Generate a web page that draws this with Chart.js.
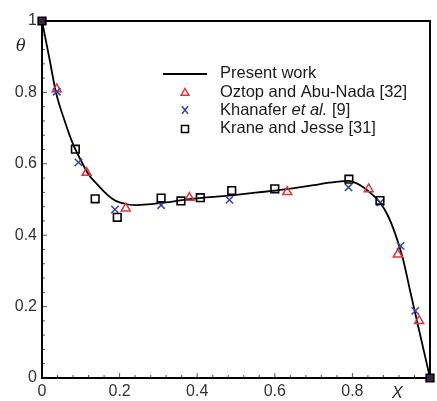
<!DOCTYPE html>
<html>
<head>
<meta charset="utf-8">
<script src="https://cdn.jsdelivr.net/npm/chart.js@4/dist/chart.umd.min.js"></script>
<style>
  body { margin: 0; background: #fff; }
  canvas { display: block; }
</style>
</head>
<body>
<canvas id="thetaChart" width="437" height="401"></canvas>
<script>
// Present work: continuous profile of theta along X
const presentX = [0, 0.02, 0.036, 0.06, 0.08, 0.10, 0.12, 0.14, 0.16, 0.18, 0.20, 0.24, 0.28, 0.32,
    0.36, 0.40, 0.45, 0.50, 0.55, 0.60, 0.65, 0.70, 0.74, 0.77, 0.79, 0.81, 0.83, 0.85, 0.87,
    0.89, 0.91, 0.93, 0.95, 0.97, 0.99, 1];
const presentY = [1, 0.89, 0.80, 0.715, 0.655, 0.61, 0.570, 0.545, 0.522, 0.503, 0.492, 0.484, 0.487, 0.492,
    0.498, 0.503, 0.508, 0.513, 0.519, 0.525, 0.532, 0.540, 0.547, 0.551, 0.552, 0.546, 0.533, 0.515, 0.493,
    0.458, 0.405, 0.335, 0.238, 0.143, 0.048, 0];

// Oztop and Abu-Nada [32]
const oztopX = [0.038, 0.115, 0.216, 0.380, 0.632, 0.842, 0.917, 0.972];
const oztopY = [0.809, 0.575, 0.475, 0.505, 0.521, 0.529, 0.346, 0.160];

// Khanafer et al. [9]
const khanaferX = [0.038, 0.094, 0.188, 0.307, 0.483, 0.790, 0.872, 0.924, 0.962];
const khanaferY = [0.802, 0.604, 0.472, 0.484, 0.499, 0.534, 0.492, 0.370, 0.188];

// Krane and Jesse [31] (end points shared by all data sets)
const kraneX = [0, 0.086, 0.137, 0.194, 0.307, 0.358, 0.408, 0.489, 0.600, 0.791, 0.871, 1];
const kraneY = [1, 0.641, 0.502, 0.450, 0.504, 0.496, 0.505, 0.525, 0.530, 0.557, 0.497, 0];

const tickValues = [0, 0.2, 0.4, 0.6, 0.8, 1];

const RED = '#e0343c';
const BLUE = '#3b3f9c';
const FONT = '"Liberation Sans", Arial, Helvetica, sans-serif';

function toPoints(xs, ys) {
    return xs.map((x, i) => ({ x: x, y: ys[i] }));
}

function tickText(v) {
    if (v === 0 || v === 1) return String(v);
    return v.toFixed(1);
}

// small symbol painters, shared by the legend
function drawTriangle(ctx, x, y, r) {
    ctx.beginPath();
    ctx.moveTo(x, y - r);
    ctx.lineTo(x + r * 0.866, y + r * 0.5);
    ctx.lineTo(x - r * 0.866, y + r * 0.5);
    ctx.closePath();
    ctx.stroke();
}
function drawCross(ctx, x, y, r) {
    ctx.beginPath();
    ctx.moveTo(x - r * 0.6, y - r * 0.75);
    ctx.lineTo(x + r * 0.6, y + r * 0.75);
    ctx.moveTo(x + r * 0.6, y - r * 0.75);
    ctx.lineTo(x - r * 0.6, y + r * 0.75);
    ctx.stroke();
}
function drawSquare(ctx, x, y, r) {
    ctx.strokeRect(x - r, y - r, 2 * r, 2 * r);
}

const framePlugin = {
    id: 'frame',
    beforeDatasetsDraw(chart) {
        const ctx = chart.ctx;
        const a = chart.chartArea;
        const xs = chart.scales.x;
        const ys = chart.scales.y;
        ctx.save();
        // inward ticks, major and minor
        ctx.lineWidth = 1;
        ctx.strokeStyle = '#555';
        for (let i = 0; i <= 25; i++) {
            const v = i * 0.04;
            const len = (i % 5 === 0) ? 5 : 3;
            const px = xs.getPixelForValue(v);
            ctx.beginPath();
            ctx.moveTo(px, a.bottom);
            ctx.lineTo(px, a.bottom - len);
            ctx.stroke();
            const py = ys.getPixelForValue(v);
            ctx.beginPath();
            ctx.moveTo(a.left, py);
            ctx.lineTo(a.left + len, py);
            ctx.stroke();
        }
        ctx.lineWidth = 2;
        ctx.strokeStyle = '#000';
        ctx.strokeRect(a.left, a.top, a.right - a.left, a.bottom - a.top);
        ctx.restore();
    },
    afterDraw(chart) {
        const ctx = chart.ctx;
        const a = chart.chartArea;
        ctx.save();
        // axis names
        ctx.fillStyle = '#222';
        ctx.textBaseline = 'middle';
        ctx.font = 'italic 16px "DejaVu Serif", "Liberation Serif", serif';
        ctx.fillText('\u03b8', 16, 47);
        ctx.font = 'italic 16px ' + FONT;
        ctx.fillText('X', a.right - 38, a.bottom + 16);

        // legend
        const symX = 185;
        const textX = 220;
        const rows = [73, 92, 110, 128];
        const size = '16.5px ';
        ctx.font = size + FONT;
        ctx.fillStyle = '#1a1a1a';
        ctx.lineWidth = 2;
        ctx.strokeStyle = '#000';
        ctx.beginPath();
        ctx.moveTo(163, rows[0] + 1);
        ctx.lineTo(207, rows[0] + 1);
        ctx.stroke();
        ctx.fillText('Present work', textX, rows[0]);

        ctx.lineWidth = 1.5;
        ctx.strokeStyle = RED;
        drawTriangle(ctx, symX, rows[1] + 1, 4.5);
        ctx.fillText('Oztop and Abu-Nada [32]', textX, rows[1]);

        ctx.strokeStyle = BLUE;
        drawCross(ctx, symX, rows[2], 5);
        let tx = textX;
        ctx.fillText('Khanafer ', tx, rows[2]);
        tx += ctx.measureText('Khanafer ').width;
        ctx.font = 'italic ' + size + FONT;
        ctx.fillText('et al.', tx, rows[2]);
        tx += ctx.measureText('et al.').width;
        ctx.font = size + FONT;
        ctx.fillText(' [9]', tx, rows[2]);

        ctx.strokeStyle = '#000';
        drawSquare(ctx, symX, rows[3] + 1, 3.5);
        ctx.fillText('Krane and Jesse [31]', textX, rows[3]);
        ctx.restore();
    }
};

const kraneFill = kraneX.map((x) => (x === 0 || x === 1) ? '#3a2249' : 'rgba(0,0,0,0)');

new Chart(document.getElementById('thetaChart'), {
    type: 'scatter',
    data: {
        datasets: [
            {
                label: 'Krane and Jesse [31]',
                data: toPoints(kraneX, kraneY),
                pointStyle: 'rect',
                pointRadius: 5.4,
                borderWidth: 1.6,
                borderColor: '#000',
                pointBackgroundColor: kraneFill,
                showLine: false,
                clip: false
            },
            {
                label: 'Khanafer et al. [9]',
                data: toPoints(khanaferX, khanaferY),
                pointStyle: 'crossRot',
                pointRadius: 5.2,
                borderWidth: 1.5,
                borderColor: BLUE,
                showLine: false
            },
            {
                label: 'Oztop and Abu-Nada [32]',
                data: toPoints(oztopX, oztopY),
                pointStyle: 'triangle',
                pointRadius: 5.2,
                borderWidth: 1.5,
                borderColor: RED,
                backgroundColor: 'rgba(0,0,0,0)',
                showLine: false
            },
            {
                label: 'Present work',
                data: toPoints(presentX, presentY),
                showLine: true,
                cubicInterpolationMode: 'monotone',
                borderColor: '#000',
                borderWidth: 1.8,
                pointRadius: 0
            }
        ]
    },
    options: {
        responsive: false,
        animation: false,
        layout: { padding: { top: 21, right: 4, left: 0, bottom: 0 } },
        plugins: {
            legend: { display: false },
            tooltip: { enabled: false }
        },
        scales: {
            x: {
                type: 'linear',
                min: 0,
                max: 1,
                afterFit: (s) => { s.height = 23; },
                afterBuildTicks: (s) => { s.ticks = tickValues.map((v) => ({ value: v })); },
                grid: { display: false, drawTicks: false },
                border: { display: false },
                ticks: {
                    padding: 4,
                    color: '#333',
                    font: { family: FONT, size: 16 },
                    maxRotation: 0,
                    callback: (v) => v === 1 ? '' : tickText(v)
                }
            },
            y: {
                type: 'linear',
                min: 0,
                max: 1,
                afterFit: (s) => { s.width = 42; },
                afterBuildTicks: (s) => { s.ticks = tickValues.map((v) => ({ value: v })); },
                grid: { display: false, drawTicks: false },
                border: { display: false },
                ticks: {
                    padding: 5,
                    color: '#333',
                    font: { family: FONT, size: 16 },
                    callback: (v) => tickText(v)
                }
            }
        }
    },
    plugins: [framePlugin]
});
</script>
</body>
</html>
